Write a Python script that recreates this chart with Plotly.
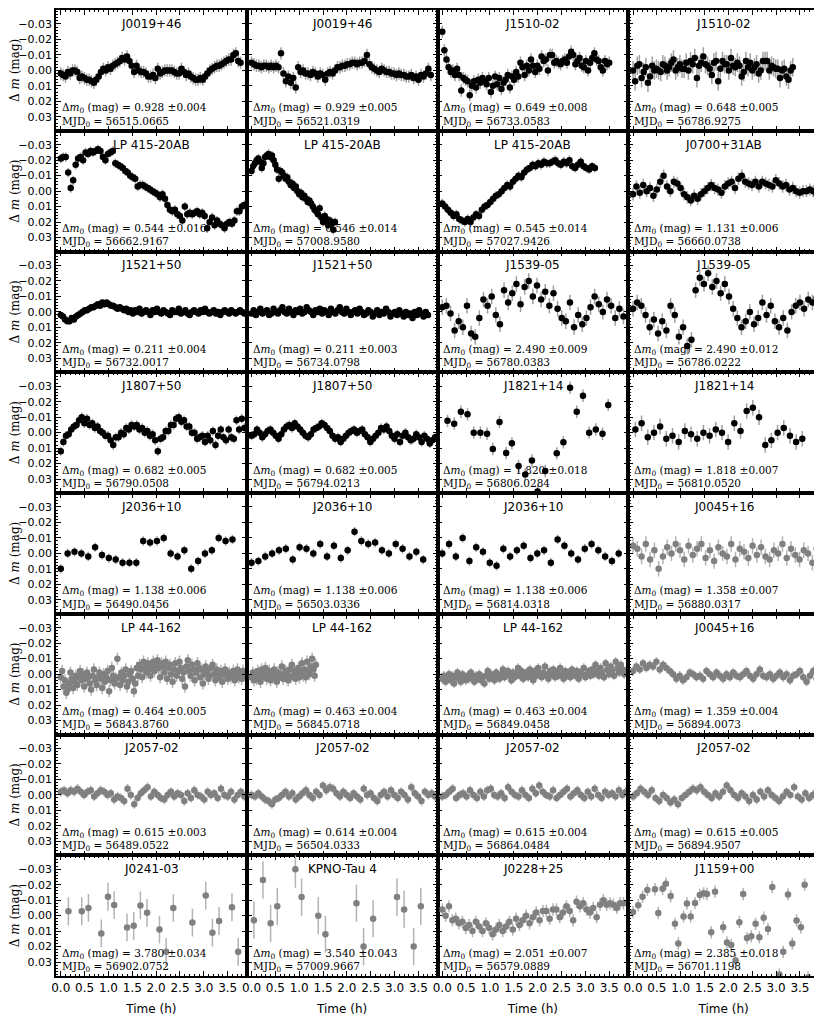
import numpy as np
import plotly.graph_objects as go
from plotly.subplots import make_subplots

# ---------------- data ----------------
NAMES = ["J0019+46", "J0019+46", "J1510-02", "J1510-02",
         "LP 415-20AB", "LP 415-20AB", "LP 415-20AB", "J0700+31AB",
         "J1521+50", "J1521+50", "J1539-05", "J1539-05",
         "J1807+50", "J1807+50", "J1821+14", "J1821+14",
         "J2036+10", "J2036+10", "J2036+10", "J0045+16",
         "LP 44-162", "LP 44-162", "LP 44-162", "J0045+16",
         "J2057-02", "J2057-02", "J2057-02", "J2057-02",
         "J0241-03", "KPNO-Tau 4", "J0228+25", "J1159+00"]
DM0 = ["0.928", "0.929", "0.649", "0.648", "0.544", "0.546", "0.545", "1.131",
       "0.211", "0.211", "2.490", "2.490", "0.682", "0.682", "1.820", "1.818",
       "1.138", "1.138", "1.138", "1.358", "0.464", "0.463", "0.463", "1.359",
       "0.615", "0.614", "0.615", "0.615", "3.780", "3.540", "2.051", "2.385"]
DM0_ERR = ["0.004", "0.005", "0.008", "0.005", "0.016", "0.014", "0.014", "0.006",
           "0.004", "0.003", "0.009", "0.012", "0.005", "0.005", "0.018", "0.007",
           "0.006", "0.006", "0.006", "0.007", "0.005", "0.004", "0.004", "0.004",
           "0.003", "0.004", "0.004", "0.005", "0.034", "0.043", "0.007", "0.018"]
MJD0 = ["56515.0665", "56521.0319", "56733.0583", "56786.9275",
        "56662.9167", "57008.9580", "57027.9426", "56660.0738",
        "56732.0017", "56734.0798", "56780.0383", "56786.0222",
        "56790.0508", "56794.0213", "56806.0284", "56810.0520",
        "56490.0456", "56503.0336", "56814.0318", "56880.0317",
        "56843.8760", "56845.0718", "56849.0458", "56894.0073",
        "56489.0522", "56504.0333", "56864.0484", "56894.9507",
        "56902.0752", "57009.9667", "56579.0889", "56701.1198"]
ERRBAR = [0.004, 0.004, 0.004, 0.006, 0.003, 0.003, 0.003, 0.004,
          0.002, 0.002, 0.005, 0.005, 0.003, 0.003, 0.004, 0.005,
          0.003, 0.003, 0.003, 0.005, 0.004, 0.004, 0.003, 0.003,
          0.003, 0.003, 0.003, 0.003, 0.009, 0.012, 0.004, 0.004]
T_START = [0, 0, 0, 0, 0, 0, 0, 0, 0, 0, 0, 0, 0, 0, None, 0.05,
           0, 0, 0, 0, 0, 0, 0, 0, 0, 0, 0, 0, None, None, 0, None]
T_END = [3.77, 3.76, 3.5, 3.35, 3.85, 1.75, 3.2, 3.85, 3.85, 3.7, 3.8, 3.85,
         3.85, 3.85, None, 3.55, 3.6, 3.6, 3.7, 3.85, 3.85, 1.35, 3.85, 3.85,
         3.85, 3.85, 3.85, 3.85, None, None, 3.8, None]
GRAY_FROM = 20  # panels 20..32 drawn in gray

V01 = [0.002,0.003,0.004,0.001,0.002,0.000,0.000,0.001,0.005,0.004,0.005,0.006,0.006,0.007,0.008,0.006,0.004,0.001,-0.001,0.000,-0.002,-0.001,-0.003,-0.004,-0.005,-0.006,-0.008,-0.007,-0.009,-0.006,-0.003,0.001,-0.003,0.000,0.001,0.001,0.002,0.004,0.004,0.003,0.005,-0.001,0.002,0.001,0.000,0.000,0.000,0.000,0.001,0.002,0.002,-0.001,0.001,0.003,0.002,0.004,0.005,0.006,0.006,0.005,0.006,0.004,0.002,0.000,-0.001,-0.002,-0.003,-0.003,-0.004,-0.005,-0.006,-0.007,-0.007,-0.010,-0.011,-0.006,-0.005]
V02 = [-0.005,-0.004,-0.003,-0.003,-0.002,-0.003,-0.003,-0.002,-0.003,-0.002,-0.003,-0.002,-0.011,0.002,0.007,0.004,0.008,0.005,0.011,-0.002,0.001,0.000,0.002,0.002,0.003,0.001,0.002,0.004,0.002,0.003,0.006,0.002,0.001,0.002,0.000,-0.002,-0.002,-0.003,-0.003,-0.004,-0.004,-0.005,-0.005,-0.004,-0.005,-0.005,-0.006,-0.010,-0.004,-0.002,-0.001,0.000,0.001,-0.001,0.000,0.001,0.001,0.002,0.002,0.003,0.002,0.003,0.003,0.004,0.004,0.003,0.005,0.004,0.006,0.003,0.004,0.002,-0.001,0.003]
V03 = [-0.025,-0.013,-0.007,-0.002,0.001,0.000,0.003,-0.001,0.003,0.013,0.005,0.006,0.007,0.016,0.010,0.007,0.011,0.006,0.008,0.005,0.007,0.009,0.005,0.014,0.010,0.004,0.009,0.005,0.012,0.008,0.006,0.003,0.011,0.004,0.006,0.001,0.004,-0.005,-0.002,0.003,-0.003,0.000,-0.007,-0.003,0.001,-0.003,-0.001,-0.009,-0.006,-0.007,0.000,-0.010,-0.010,-0.005,-0.006,-0.005,-0.004,-0.006,-0.007,-0.005,-0.009,-0.012,-0.010,-0.004,-0.006,-0.008,-0.003,-0.002,-0.006,0.000,-0.005,-0.008,-0.011,-0.007,-0.006,-0.002,0.000,-0.006,-0.004,-0.005]
V04 = [0.000,0.007,-0.003,-0.004,0.005,0.001,-0.002,0.008,0.004,-0.003,0.000,-0.001,0.000,0.001,-0.004,-0.003,0.000,-0.002,-0.005,-0.007,0.000,-0.002,-0.004,-0.001,-0.001,-0.005,0.000,-0.006,-0.004,-0.008,0.005,-0.003,-0.005,-0.009,-0.004,-0.003,-0.001,0.003,-0.005,-0.006,0.007,-0.001,-0.006,-0.004,-0.004,0.000,-0.008,-0.003,-0.002,-0.005,-0.003,0.004,0.001,-0.006,-0.002,-0.005,0.000,-0.002,-0.004,0.002,0.000,-0.006,-0.006,-0.006,0.000,-0.003,-0.002,-0.001,-0.001,0.005,0.000,-0.001,0.004,0.006,0.000,-0.002]
V05 = [-0.021,-0.022,-0.022,-0.012,-0.002,-0.007,-0.017,-0.021,-0.022,-0.020,-0.025,-0.024,-0.026,-0.025,-0.026,-0.027,-0.026,-0.022,-0.020,-0.024,-0.025,-0.026,-0.018,-0.017,-0.016,-0.015,-0.013,-0.012,-0.010,-0.009,-0.008,-0.003,-0.004,-0.004,-0.003,-0.002,-0.001,0.000,0.001,0.002,0.004,0.002,0.005,0.009,0.012,0.013,0.012,0.015,0.016,0.019,0.010,0.015,0.014,0.015,0.014,0.013,0.015,0.014,0.016,0.024,0.020,0.017,0.022,0.019,0.021,0.022,0.024,0.021,0.020,0.021,0.019,0.013,0.013,0.010,0.009]
V06 = [-0.013,-0.016,-0.018,-0.020,-0.021,-0.019,-0.015,-0.018,-0.022,-0.023,-0.024,-0.022,-0.023,-0.020,-0.017,-0.014,-0.008,-0.013,-0.012,-0.010,-0.008,-0.009,-0.006,-0.004,-0.005,-0.002,-0.003,0.000,0.002,0.001,0.004,0.003,0.005,0.007,0.006,0.008,0.010,0.012,0.013,0.015,0.011,0.017,0.020,0.016,0.018,0.022,0.019,0.021,0.025,0.020]
V07 = [0.008,0.010,0.012,0.014,0.016,0.015,0.018,0.019,0.020,0.018,0.020,0.017,0.015,0.016,0.012,0.010,0.009,0.007,0.005,0.003,0.002,0.000,-0.002,-0.004,-0.003,-0.006,-0.008,-0.010,-0.009,-0.012,-0.014,-0.015,-0.017,-0.016,-0.018,-0.017,-0.019,-0.018,-0.018,-0.019,-0.020,-0.018,-0.017,-0.019,-0.018,-0.020,-0.016,-0.015,-0.017,-0.019,-0.016,-0.015,-0.014,-0.016,-0.015]
V08 = [0.002,-0.003,0.001,-0.004,0.000,-0.002,0.003,-0.001,-0.006,-0.010,-0.003,0.000,-0.006,-0.005,-0.002,0.002,0.004,0.006,0.003,0.005,0.002,0.000,-0.002,-0.004,-0.002,-0.001,0.001,-0.003,-0.005,-0.006,-0.002,-0.008,-0.010,-0.006,-0.005,-0.004,-0.006,-0.003,-0.006,-0.005,-0.004,-0.003,-0.007,-0.005,-0.003,-0.004,-0.001,-0.002,0.000,0.001,0.000,0.000,-0.001,0.000,0.002]
V09 = [0.002,0.003,0.005,0.006,0.006,0.004,0.005,0.003,0.002,0.001,0.000,-0.001,-0.001,-0.002,-0.003,-0.003,-0.004,-0.005,-0.004,-0.006,-0.005,-0.006,-0.005,-0.004,-0.004,-0.003,-0.002,-0.003,-0.002,-0.001,-0.002,0.000,-0.001,0.001,-0.001,0.000,-0.002,0.001,0.000,-0.001,0.000,0.002,-0.001,0.000,-0.002,0.000,0.001,-0.001,0.000,0.001,0.002,-0.001,0.000,0.000,-0.002,0.001,0.000,-0.001,0.001,0.002,0.000,-0.001,0.000,0.001,-0.001,0.000,-0.002,0.000,0.001,0.000,-0.001,0.001,0.000,0.002,0.000,-0.001,0.000,0.001,-0.001,0.000,0.001,0.000,-0.001,0.000,0.001]
V10 = [0.001,-0.001,0.002,0.000,-0.002,0.001,0.000,-0.001,0.002,0.001,-0.002,0.000,0.001,-0.001,-0.003,0.000,0.001,-0.002,0.000,0.002,-0.001,0.000,-0.002,0.001,0.000,-0.003,-0.001,0.000,0.002,-0.001,0.000,-0.002,0.001,-0.001,0.000,0.002,-0.002,0.000,0.001,-0.001,-0.003,0.000,0.001,-0.002,0.000,0.002,0.000,-0.001,0.001,-0.002,0.000,0.002,0.001,-0.001,0.000,0.003,0.001,-0.001,0.002,0.000,0.001,-0.002,0.000,0.003,0.001,0.000,0.002,-0.001,0.001,0.003,0.000,0.002,0.001,0.004,0.000,0.002,-0.001,0.001,0.003,0.000,0.002]
V11 = [-0.003,-0.004,0.001,0.012,0.006,0.010,-0.004,0.014,0.016,0.004,-0.008,-0.004,-0.010,0.002,0.008,-0.014,-0.006,-0.012,-0.018,-0.005,-0.016,-0.020,-0.010,-0.017,-0.008,-0.013,-0.004,-0.012,-0.002,0.004,0.006,-0.006,0.010,0.002,0.008,0.004,-0.003,-0.010,-0.005,0.000,-0.008,-0.004,0.004,-0.002,0.003]
V12 = [-0.002,-0.006,-0.004,0.002,0.010,0.005,0.014,0.006,0.012,-0.004,0.002,0.016,0.010,0.022,0.018,-0.014,-0.022,-0.018,-0.025,-0.016,-0.020,-0.012,-0.018,-0.010,-0.002,0.004,0.010,0.006,0.000,0.008,0.004,-0.006,0.002,-0.004,0.006,0.010,0.004,0.012,0.000,-0.004,-0.006,-0.002,-0.008,-0.006,-0.009]
V13 = [0.012,0.006,0.002,0.001,-0.002,-0.004,-0.005,-0.008,-0.010,-0.006,-0.009,-0.005,-0.006,-0.003,-0.004,-0.001,0.000,0.002,0.002,0.005,0.008,0.003,0.003,0.000,0.001,-0.003,-0.002,-0.005,-0.004,-0.005,-0.002,-0.003,0.000,-0.001,0.002,0.001,0.005,0.012,0.004,0.003,-0.001,-0.001,-0.005,-0.005,-0.009,-0.010,-0.007,-0.008,-0.004,-0.004,0.000,0.000,0.004,0.003,0.002,0.006,0.002,0.005,-0.001,0.008,0.002,-0.002,0.003,0.005,-0.002,0.003,0.004,-0.008,-0.002,-0.009,-0.003]
V14 = [0.002,0.001,-0.002,0.000,0.003,0.001,-0.001,-0.002,0.000,0.002,0.004,0.001,-0.002,-0.004,-0.005,-0.003,-0.006,-0.004,-0.002,0.000,0.002,0.003,0.001,-0.002,-0.003,-0.004,-0.006,-0.005,-0.003,-0.001,0.002,0.004,0.003,0.006,0.004,0.002,0.000,-0.001,-0.002,0.000,-0.001,-0.002,0.001,0.003,0.006,0.004,0.002,0.000,-0.003,-0.002,-0.004,-0.001,0.002,0.004,0.001,0.006,0.002,0.000,0.003,0.005,0.004,0.001,0.003,0.006,0.002,0.004,0.007,0.005,0.003]
T15 = [0.11,0.25,0.39,0.53,0.66,0.80,0.94,1.06,1.20,1.34,1.46,1.60,1.74,1.88,2.00,2.16,2.40,2.54,2.68,2.82,2.95,3.08,3.22,3.36,3.48]
V15 = [-0.0076,-0.0058,-0.0135,-0.0118,0.000,0.000,0.0007,0.0106,-0.0069,0.0132,0.0069,0.0215,0.027,0.018,0.038,0.0248,0.0134,0.0062,-0.029,-0.0135,-0.0238,0.000,-0.002,0.0007,-0.0179]
V16 = [-0.002,-0.006,0.003,0.000,-0.004,0.004,0.002,0.006,-0.001,0.001,0.004,0.000,0.002,-0.002,0.000,0.006,-0.006,-0.001,-0.014,-0.016,-0.010,0.008,0.005,0.000,-0.003,0.002,0.006,0.004]
V17 = [0.010,0.000,-0.001,0.000,0.002,-0.004,0.001,0.003,0.004,0.006,0.006,0.006,-0.008,-0.007,-0.008,-0.010,0.000,0.002,-0.002,0.010,0.005,0.000,-0.002,-0.010,-0.008,-0.009]
V18 = [0.006,0.005,0.002,0.000,-0.002,-0.003,0.004,-0.004,-0.003,0.000,-0.006,0.002,-0.005,0.003,-0.002,-0.014,-0.008,-0.006,-0.007,-0.002,0.000,-0.006,-0.003,0.002,-0.001,0.004]
V19 = [0.000,-0.006,0.002,-0.010,0.005,-0.004,-0.001,0.006,0.008,-0.003,0.002,-0.002,-0.005,0.003,0.000,-0.002,0.006,-0.009,-0.005,0.000,0.004,-0.003,-0.006,-0.002,0.002,0.005,0.000]
V20 = [-0.005,-0.003,0.002,-0.006,0.004,-0.002,0.010,0.002,-0.004,0.000,-0.006,-0.002,0.004,-0.005,0.001,-0.003,-0.006,0.003,-0.002,0.005,-0.004,0.000,0.002,-0.006,0.004,-0.003,-0.001,0.003,-0.005,0.001,-0.004,0.002,0.004,-0.002,0.000,-0.006,0.003,-0.003,0.001,0.004,-0.002,0.000,0.006,-0.003]
V21 = [0.002,-0.002,0.008,0.004,0.012,0.010,0.006,-0.001,0.003,0.009,0.005,0.001,0.007,0.002,-0.002,0.004,0.000,0.008,0.003,-0.001,0.002,0.006,0.010,0.001,-0.003,0.004,0.007,0.002,-0.001,0.003,0.009,0.000,0.005,0.002,-0.002,0.011,0.004,-0.004,0.001,0.006,0.003,-0.010,0.002,0.007,-0.001,0.004,0.001,-0.003,0.008,0.005,0.000,-0.002,0.003,0.011,0.006,-0.004,0.001,-0.006,-0.003,0.002,-0.008,-0.004,-0.001,-0.007,-0.003,0.001,-0.005,-0.008,-0.002,-0.006,-0.009,-0.004,0.002,-0.007,-0.005,-0.001,-0.008,0.003,-0.004,-0.006,0.000,0.005,-0.003,-0.007,0.001,-0.002,-0.008,-0.004,0.003,-0.001,0.008,-0.005,-0.009,-0.002,0.001,-0.006,-0.003,0.004,-0.001,-0.007,-0.004,0.002,-0.003,0.006,0.000,-0.005,-0.002,0.003,0.001,-0.004,-0.006,0.000,0.004,-0.003,0.001,0.002,-0.002,0.005,0.000,-0.003,0.001,0.003,-0.001,0.002,0.000,-0.002,0.004,0.001,-0.003,0.002,0.000,0.003,-0.002,0.001]
V22 = [0.002,-0.001,0.004,0.000,0.003,-0.002,0.001,0.005,-0.003,0.002,0.000,-0.004,0.003,0.001,-0.002,0.004,0.000,0.002,-0.003,0.001,0.005,-0.001,0.002,0.000,-0.005,0.003,0.001,-0.002,0.000,0.004,-0.003,0.002,-0.006,0.001,-0.002,0.003,0.000,-0.004,0.002,-0.001,-0.007,0.001,-0.003,0.002,-0.008,-0.002,0.000,-0.005,-0.010,-0.003,0.001,-0.006]
V23 = [0.003,0.001,0.005,0.002,0.000,0.004,0.001,0.006,0.002,-0.001,0.003,0.005,0.000,0.002,0.004,0.001,0.003,-0.001,0.002,0.005,0.001,0.003,0.000,0.004,0.002,0.006,0.001,-0.002,0.003,0.000,0.002,0.004,-0.001,0.001,0.003,0.000,-0.003,0.002,0.000,-0.002,0.001,0.004,-0.001,0.002,0.000,-0.004,0.001,-0.002,0.003,0.000,-0.001,0.002,-0.003,0.000,0.004,-0.002,0.001,-0.004,0.000,0.002,-0.001,-0.005,0.001,0.003,-0.002,0.000,-0.003,0.002,-0.001,0.001,-0.004,0.000,0.003,-0.002,0.001,-0.001,0.002,-0.003,0.000,0.001,-0.002,0.003,-0.001,0.000,-0.004,0.002,0.000,-0.002,0.001,-0.003,0.000,-0.006,-0.002,0.001,-0.004,-0.001,0.002,-0.007,-0.003,0.000,-0.005,-0.002,0.001,-0.008,-0.004,-0.001,-0.006,-0.003,0.000,-0.002]
V24 = [-0.002,-0.005,-0.003,-0.007,-0.004,-0.006,-0.005,-0.008,-0.003,-0.006,-0.004,-0.002,0.000,0.003,0.001,0.004,0.002,-0.001,0.000,0.002,0.001,0.003,-0.002,0.000,0.002,-0.001,0.001,0.003,0.000,0.002,-0.001,0.001,0.002,0.000,-0.002,0.001,0.003,0.000,-0.003,0.001,0.002,0.000,0.003,0.001,-0.001,0.002,0.000,0.004,0.001,0.000,-0.002,0.002,0.005,0.001,-0.002,0.003]
V25 = [-0.002,-0.003,-0.001,-0.003,-0.002,-0.004,-0.002,0.000,-0.002,-0.003,0.001,-0.001,-0.003,-0.002,0.000,-0.001,0.003,0.001,0.002,0.004,-0.004,0.000,0.006,0.002,-0.001,-0.003,-0.005,0.001,-0.002,0.000,0.002,0.003,0.000,-0.002,0.001,-0.001,0.000,0.004,-0.001,0.002,-0.003,0.000,0.001,0.003,-0.002,0.000,-0.001,0.002,-0.004,0.000,0.001,-0.002,0.003,0.000,-0.002,0.001]
V26 = [0.000,0.001,-0.001,0.001,0.003,0.004,0.006,0.003,0.002,0.000,-0.002,0.001,-0.001,0.003,0.001,-0.001,-0.003,0.000,0.002,-0.002,0.000,-0.006,-0.003,-0.005,-0.004,-0.001,0.001,-0.002,0.000,0.002,-0.001,0.001,0.003,-0.004,0.000,-0.001,0.002,0.004,0.000,-0.002,0.001,-0.003,0.000,0.002,-0.002,0.000,0.003,-0.005,-0.001,0.001,0.004,-0.002,0.000,-0.001,0.001]
V27 = [0.001,0.000,-0.002,-0.004,0.002,0.000,-0.001,0.001,-0.003,0.000,0.002,-0.002,0.001,-0.003,-0.004,0.000,0.001,-0.001,0.002,-0.005,-0.002,0.000,0.001,-0.003,0.000,0.002,-0.004,-0.001,-0.006,-0.002,0.000,0.001,-0.003,0.002,0.000,-0.002,-0.004,0.001,-0.001,-0.003,0.000,0.002,-0.002,0.001,-0.004,0.000,0.002,-0.002,0.000,-0.001,0.001,-0.003,0.000,-0.002]
V28 = [0.001,-0.001,-0.004,-0.002,0.000,-0.003,0.002,0.004,0.000,0.002,0.005,0.003,0.006,0.002,0.000,-0.002,-0.004,-0.003,-0.005,-0.002,0.000,0.002,-0.001,0.001,-0.002,-0.006,-0.003,0.000,0.002,-0.001,0.001,0.004,0.000,0.003,-0.002,0.001,-0.003,0.000,0.002,0.004,0.001,-0.002,0.000,-0.005,0.001,0.003,-0.001,0.002,0.000,-0.002]
T29 = [0.16,0.44,0.58,0.85,0.99,1.12,1.39,1.53,1.67,1.81,2.07,2.21,2.36,2.76,3.04,3.18,3.32,3.59,3.72]
V29 = [-0.0028,-0.0028,-0.005,0.0115,-0.0122,-0.0068,0.0076,0.0066,-0.0066,-0.0018,0.009,0.0234,-0.005,0.0045,-0.013,0.011,0.0035,-0.0054,0.0234]
T30 = [0.05,0.24,0.40,0.54,0.92,1.05,1.40,1.55,2.20,2.35,2.55,3.05,3.20,3.40,3.55]
V30 = [0.003,-0.023,0.005,-0.006,-0.030,-0.012,0.000,0.012,-0.008,0.020,0.002,-0.012,-0.004,0.020,-0.006]
V31 = [-0.004,0.000,-0.006,0.003,0.002,0.005,0.004,0.008,0.006,0.010,0.004,0.007,0.010,0.005,0.008,0.012,0.009,0.006,0.010,0.007,0.004,0.009,0.002,0.006,0.003,0.000,0.005,0.001,-0.002,0.003,-0.003,-0.003,0.002,-0.004,-0.004,0.001,-0.002,-0.006,-0.003,0.003,-0.009,-0.006,-0.008,-0.004,-0.002,-0.005,0.001,-0.007,-0.010,-0.007,-0.008,-0.007,-0.005,-0.008,-0.008]
T32 = [0.0,0.11,0.20,0.30,0.46,0.53,0.62,0.69,0.79,0.88,0.95,1.06,1.13,1.21,1.30,1.40,1.48,1.55,1.64,1.72,1.89,1.97,2.06,2.15,2.23,2.31,2.39,2.48,2.57,2.65,2.74,2.83,2.92,3.07,3.15,3.25,3.34,3.43,3.52,3.60,3.67]
V32 = [-0.0023,-0.0067,-0.0122,-0.0166,-0.017,-0.0017,-0.0173,-0.0206,-0.0127,0.0053,0.018,0.0005,-0.0078,0.0005,-0.0081,-0.0133,-0.0144,-0.014,0.0108,-0.0155,0.0075,0.0174,0.019,0.029,0.0042,-0.014,0.0145,0.0134,0.0053,0.014,0.0014,0.0086,-0.0185,0.038,0.0234,-0.0137,0.018,0.0031,0.0075,-0.020,0.040]

VALUES = [V01, V02, V03, V04, V05, V06, V07, V08, V09, V10, V11, V12, V13, V14, V15, V16,
          V17, V18, V19, V20, V21, V22, V23, V24, V25, V26, V27, V28, V29, V30, V31, V32]
TIMES = {15: T15, 29: T29, 30: T30, 32: T32}

YTICKS = [-0.03, -0.02, -0.01, 0.0, 0.01, 0.02, 0.03]
XTICKS = [0.0, 0.5, 1.0, 1.5, 2.0, 2.5, 3.0, 3.5]

# ---------------- figure ----------------
NR, NC = 8, 4
fig = make_subplots(rows=NR, cols=NC, horizontal_spacing=0, vertical_spacing=0)

SANS = "DejaVu Sans"
SERIF = "DejaVu Serif"

for k in range(32):
    idx = k + 1
    r, c = k // NC + 1, k % NC + 1
    vals = VALUES[k]
    if idx in TIMES:
        t = TIMES[idx]
    else:
        t = np.linspace(T_START[k], T_END[k], len(vals))
    gray = idx >= GRAY_FROM
    mcol = "#808080" if gray else "black"
    ecol = "#b4b4b4" if gray else "#a0a0a0"
    fig.add_trace(go.Scatter(
        x=t, y=vals, mode="markers",
        marker=dict(size=6.5, color=mcol, line=dict(width=0)),
        error_y=dict(type="data", array=[ERRBAR[k]] * len(vals), visible=True,
                     thickness=1.5, width=0, color=ecol),
        showlegend=False, hoverinfo="skip"), row=r, col=c)

    ax = "" if idx == 1 else str(idx)
    xd, yd = f"x{ax} domain", f"y{ax} domain"
    fig.add_annotation(x=0.5, y=0.885, xref=xd, yref=yd, text=NAMES[k], showarrow=False,
                       font=dict(family=SANS, size=12, color="black"),
                       xanchor="center", yanchor="middle")
    fig.add_annotation(x=0.02, y=0.185, xref=xd, yref=yd,
                       text=f"Δ<i>m</i><sub>0</sub> (mag) = {DM0[k]} ±{DM0_ERR[k]}",
                       showarrow=False, font=dict(family=SERIF, size=10.5, color="black"),
                       xanchor="left", yanchor="middle")
    fig.add_annotation(x=0.02, y=0.075, xref=xd, yref=yd,
                       text=f"MJD<sub>0</sub> = {MJD0[k]}",
                       showarrow=False, font=dict(family=SERIF, size=10.5, color="black"),
                       xanchor="left", yanchor="middle")

fig.update_xaxes(range=[-0.1, 3.9], tickvals=XTICKS, ticktext=[f"{v:.1f}" for v in XTICKS],
                 ticks="inside", ticklen=5, tickwidth=1, tickcolor="black",
                 minor=dict(ticks="inside", ticklen=2.5, dtick=0.1, tick0=0, tickcolor="black", showgrid=False),
                 showline=True, linewidth=1.5, linecolor="black", mirror="ticks",
                 showgrid=False, zeroline=False, showticklabels=False, automargin=False,
                 tickfont=dict(family=SANS, size=12, color="black"))
fig.update_yaxes(range=[0.039, -0.039], tickvals=YTICKS,
                 ticktext=[("−" if v < 0 else "") + f"{abs(v):.2f}" for v in YTICKS],
                 ticks="inside", ticklen=5, tickwidth=1, tickcolor="black",
                 minor=dict(ticks="inside", ticklen=2.5, dtick=0.002, tick0=0, tickcolor="black", showgrid=False),
                 showline=True, linewidth=1.5, linecolor="black", mirror="ticks",
                 showgrid=False, zeroline=False, showticklabels=False, automargin=False,
                 tickfont=dict(family=SANS, size=11, color="black"))
for c in range(1, NC + 1):
    fig.update_xaxes(showticklabels=True, row=NR, col=c,
                     title=dict(text="Time (h)", font=dict(family=SANS, size=12, color="black"), standoff=10))
for r in range(1, NR + 1):
    fig.update_yaxes(showticklabels=True, row=r, col=1,
                     title=dict(text="Δ <i>m</i> (mag)", font=dict(family=SERIF, size=12, color="black"), standoff=3))

# the page body adds an 8 px offset; size and margins compensate for it
fig.update_layout(width=814, height=1012, margin=dict(l=48, r=3, t=2, b=44),
                  plot_bgcolor="white", paper_bgcolor="white")
fig.write_html("out.html")
